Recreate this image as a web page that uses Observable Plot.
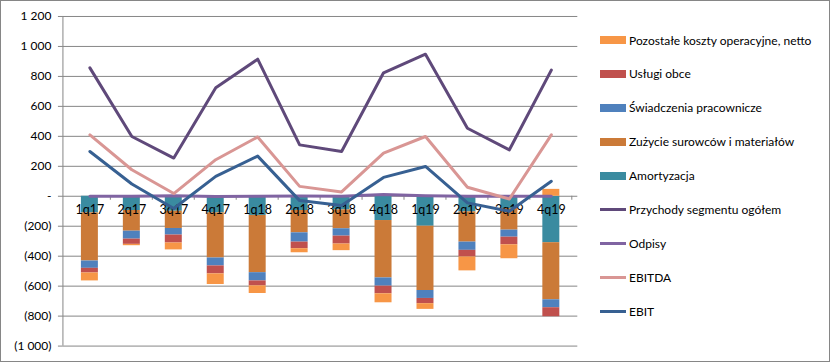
<!DOCTYPE html>
<html>
<head>
<meta charset="utf-8">
<script src="https://cdn.jsdelivr.net/npm/d3@7"></script>
<script src="https://cdn.jsdelivr.net/npm/@observablehq/plot@0.6"></script>
<style>
  html, body { margin: 0; padding: 0; background: #fff; }
  #wrap { position: relative; width: 830px; height: 362px; box-sizing: border-box; border: 1px solid #868686; font-family: Lato, "Noto Sans", sans-serif; overflow: hidden; }
  #chart { position: absolute; left: -1px; top: -1px; }
  #legend { position: absolute; left: 599px; top: 0; width: 230px; font-size: 12px; color: #000; }
  .row { position: absolute; left: 0; height: 16px; display: flex; align-items: center; white-space: nowrap; }
  .sw { width: 26px; margin-right: 3px; }
</style>
</head>
<body>
<div id="wrap"><div id="chart"></div><div id="legend"></div></div>
<script>
const quarters = ["1q17","2q17","3q17","4q17","1q18","2q18","3q18","4q18","1q19","2q19","3q19","4q19"];

// cost components (negative = cost)
const amortyzacja = [-111, -95, -100, -111, -128, -95, -91, -162, -200, -104, -82, -310];
const zuzycie     = [-321, -138, -115, -301, -382, -149, -126, -383, -429, -202, -144, -381];
const swiadczenia = [-49, -53, -44, -53, -55, -62, -49, -55, -53, -55, -47, -53];
const uslugi      = [-31, -35, -53, -53, -33, -44, -53, -51, -35, -44, -51, -60];
const pozostale   = [-53, -9, -46, -71, -51, -27, -44, -60, -38, -93, -93, 46];

// lines
const przychody = [857, 399, 255, 724, 915, 343, 299, 824, 948, 454, 310, 842];
const odpisy    = [0, 0, 4, -2, 0, 2, 0, 11, 4, 0, 0, 0];
const ebitda    = [410, 177, 18, 244, 396, 66, 29, 288, 399, 60, -18, 410];
const ebit      = [299, 82, -82, 133, 268, -29, -62, 126, 199, -44, -100, 100];

const yTicks = [-1000, -800, -600, -400, -200, 0, 200, 400, 600, 800, 1000, 1200];

const barSeries = [
  {name: "Amortyzacja", values: amortyzacja, color: "#3A8BA0"},
  {name: "Zużycie surowców i materiałów", values: zuzycie, color: "#CB7A38"},
  {name: "Świadczenia pracownicze", values: swiadczenia, color: "#4F81BD"},
  {name: "Usługi obce", values: uslugi, color: "#C0504D"},
  {name: "Pozostałe koszty operacyjne, netto", values: pozostale, color: "#F79646"}
];
const lineSeries = [
  {name: "Przychody segmentu ogółem", values: przychody, color: "#5F497A"},
  {name: "Odpisy", values: odpisy, color: "#8064A2"},
  {name: "EBITDA", values: ebitda, color: "#D99694"},
  {name: "EBIT", values: ebit, color: "#376092"}
];

const barData = barSeries.flatMap(s => quarters.map((q, i) => ({q, v: s.values[i], s: s.name})));
const lineData = lineSeries.flatMap(s => quarters.map((q, i) => ({q, v: s.values[i], s: s.name})));

const colorDomain = [...barSeries, ...lineSeries].map(s => s.name);
const colorRange = [...barSeries, ...lineSeries].map(s => s.color);

function fmt(v) {
  if (v === 0) return "-";
  const s = d3.format(",")(Math.abs(v)).replace(/,/g, " ");
  return v < 0 ? "(" + s + ")" : s;
}

// left axis line + category ticks on zero line
function axisDecor(index, scales, values, dims) {
  const g = d3.create("svg:g");
  const y0 = scales.y(0);
  g.append("line")
    .attr("x1", dims.marginLeft).attr("x2", dims.marginLeft)
    .attr("y1", scales.y(1200)).attr("y2", scales.y(-1000))
    .attr("stroke", "#868686");
  const step = scales.x.step ? scales.x.step() : (dims.width - dims.marginLeft - dims.marginRight) / quarters.length;
  quarters.forEach((q, i) => {
    const xc = scales.x(q) + scales.x.bandwidth() / 2;
    const xb = xc + step / 2;
    g.append("line").attr("x1", xb).attr("x2", xb).attr("y1", y0).attr("y2", y0 + 4).attr("stroke", "#868686");
  });
  return g.node();
}

const chart = Plot.plot({
  width: 830,
  height: 362,
  marginLeft: 63,
  marginRight: 252,
  marginTop: 16,
  marginBottom: 16,
  style: {fontFamily: "Lato, 'Noto Sans', sans-serif", fontSize: "12px", color: "#000", background: "transparent"},
  x: {domain: quarters, paddingInner: 0.6, paddingOuter: 0.3, axis: null, label: null},
  y: {domain: [-1000, 1200], axis: null, label: null},
  color: {domain: colorDomain, range: colorRange},
  marks: [
    Plot.gridY(yTicks, {stroke: "#868686", strokeOpacity: 1}),
    Plot.axisY(yTicks, {tickFormat: fmt, tickSize: 5, tickPadding: 7, stroke: "#868686", fill: "#000", fontSize: 12, label: null}),
    axisDecor,
    Plot.barY(barData, {x: "q", y: "v", fill: "s", order: barSeries.map(s => s.name)}),
    Plot.text(quarters, {x: d => d, y: () => 0, dy: 14, text: d => d, fill: "#000", fontSize: 12.5}),
    Plot.line(lineData, {x: "q", y: "v", z: "s", stroke: "s", strokeWidth: 3})
  ]
});
document.getElementById("chart").appendChild(chart);

// legend
const legend = document.getElementById("legend");
const rows = [...barSeries.slice().reverse().map(s => ({...s, kind: "bar"})), ...lineSeries.map(s => ({...s, kind: "line"}))];
rows.forEach((r, i) => {
  const row = document.createElement("div");
  row.className = "row";
  row.style.top = (31 + i * 33.9) + "px";
  const sw = document.createElement("div");
  sw.className = "sw";
  sw.style.background = r.color;
  sw.style.height = r.kind === "bar" ? "8px" : "3px";
  row.appendChild(sw);
  const t = document.createElement("span");
  t.textContent = r.name;
  row.appendChild(t);
  legend.appendChild(row);
});
</script>
</body>
</html>
